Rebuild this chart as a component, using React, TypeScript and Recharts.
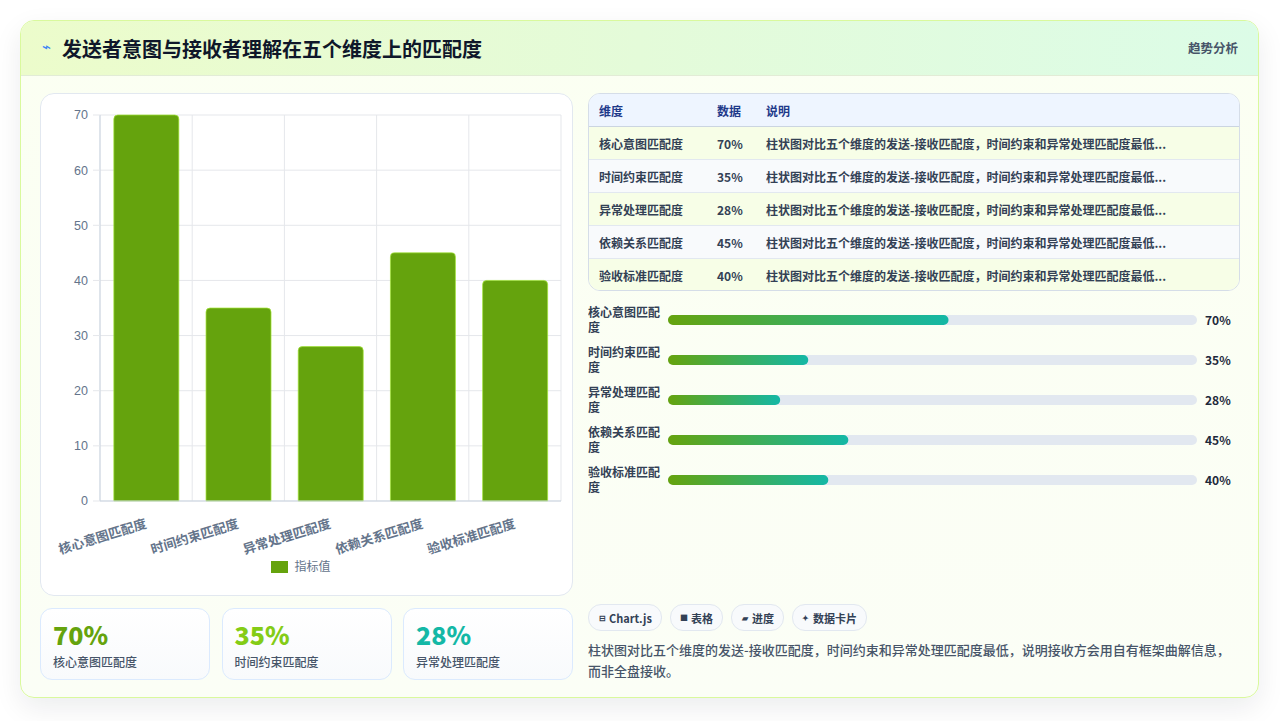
import React from 'react';
import {
  BarChart, Bar, XAxis, YAxis, CartesianGrid, Legend,
} from 'recharts';

const categories = ['核心意图匹配度', '时间约束匹配度', '异常处理匹配度', '依赖关系匹配度', '验收标准匹配度'];
const values = [70, 35, 28, 45, 40];
const yTicks = [0, 10, 20, 30, 40, 50, 60, 70];
const seriesName = '指标值';
const noteShort = '柱状图对比五个维度的发送-接收匹配度，时间约束和异常处理匹配度最低...';
const summary = '柱状图对比五个维度的发送-接收匹配度，时间约束和异常处理匹配度最低，说明接收方会用自有框架曲解信息，而非全盘接收。';
const title = '发送者意图与接收者理解在五个维度上的匹配度';
const tag = '趋势分析';
const tableHeaders = ['维度', '数据', '说明'];
const kpiColors = ['#65a30d', '#84cc16', '#14b8a6'];
const buttons = [
  { icon: '⊟', label: 'Chart.js' },
  { icon: '■', label: '表格' },
  { icon: '▰', label: '进度' },
  { icon: '✦', label: '数据卡片' },
];

const data = categories.map((c, i) => ({ name: c, value: values[i], pct: `${values[i]}%` }));

const FONT = '"Noto Sans CJK SC", "Noto Sans", sans-serif';
const AXIS_FONT = '"Liberation Sans", Arial, "Noto Sans CJK SC", sans-serif';

// page coords -> card-relative (card at 20,20 with 1px border)
const P = (x: number, y: number) => ({ position: 'absolute' as const, left: x - 21, top: y - 21 });

const XTick = (props: any) => {
  const { x, y, payload } = props;
  const ax = x - 2;
  const ay = y + 10;
  return (
    <text
      x={ax}
      y={ay}
      dy="0.85em"
      textAnchor="end"
      fill="#64748b"
      fontSize={13}
      fontWeight={600}
      fontFamily={AXIS_FONT}
      transform={`rotate(-17, ${ax}, ${ay})`}
    >
      {payload.value}
    </text>
  );
};

const LegendContent = () => (
  <div style={{ height: 40, display: 'flex', justifyContent: 'center', alignItems: 'flex-start', paddingTop: 0 }}>
    <div style={{ display: 'flex', alignItems: 'center', marginTop: 6 }}>
      <span style={{ width: 17, height: 12, background: '#65a30d', display: 'inline-block', marginRight: 6 }} />
      <span style={{ fontSize: 12, color: '#64748b', fontFamily: AXIS_FONT, lineHeight: '12px' }}>{seriesName}</span>
    </div>
  </div>
);

const ProgLabel = (props: any) => {
  const { y, payload } = props;
  const s: string = payload.value;
  const a = s.slice(0, 6);
  const b = s.slice(6);
  return (
    <text x={0} y={y} fill="#334155" fontSize={12} fontWeight={600} fontFamily={FONT}>
      <tspan x={0} dy={-3}>{a}</tspan>
      <tspan x={0} dy={15}>{b}</tspan>
    </text>
  );
};

const ProgPct = (props: any) => {
  const { y, payload } = props;
  return (
    <text x={617} y={y} dy={5} fill="#1e293b" fontSize={12} fontWeight={700} fontFamily={FONT}>
      {payload.value}
    </text>
  );
};

export default function App() {
  return (
    <div style={{ fontFamily: FONT }}>
      <style>{'body{margin:0;background:#fff;}'}</style>
      <div style={{ position: 'relative', width: 1280, height: 721, overflow: 'hidden', background: '#fff' }}>
        <div
          style={{
            position: 'absolute', left: 20, top: 20, width: 1237, height: 676,
            border: '1px solid #d9f99d', borderRadius: 14,
            background: 'linear-gradient(180deg, #fbfff2 0%, #fbfef6 100%)',
            boxShadow: '0 10px 28px rgba(15,23,42,0.08)', overflow: 'hidden',
          }}
        >
          {/* header */}
          <div
            style={{
              position: 'absolute', left: 0, top: 0, width: 1237, height: 54,
              background: 'linear-gradient(90deg, #ecfccb 0%, #e4fbd9 50%, #dcfce7 100%)',
              borderBottom: '1px solid #e2ecd6',
            }}
          >
            <span style={{ position: 'absolute', left: 21, top: 14, fontSize: 15, color: '#3b82f6', lineHeight: '22px' }}>⌁</span>
            <span style={{ position: 'absolute', left: 41, top: 14, fontSize: 20, fontWeight: 700, color: '#0f172a', lineHeight: '28px' }}>{title}</span>
            <span style={{ position: 'absolute', right: 20, top: 18, fontSize: 12.5, fontWeight: 600, color: '#475569', lineHeight: '18px' }}>{tag}</span>
          </div>

          {/* chart card */}
          <div
            style={{
              ...P(40, 93), width: 531, height: 501, background: '#fff',
              border: '1px solid #e2e8f0', borderRadius: 14,
            }}
          >
            <BarChart
              width={531}
              height={501}
              data={data}
              margin={{ top: 21, right: 11, bottom: 0, left: 0 }}
              barCategoryGap="15%"
            >
              <CartesianGrid
                stroke="#e5e7eb"
                verticalCoordinatesGenerator={({ offset }: any) =>
                  [0, 1, 2, 3, 4, 5].map((i) => offset.left + (i * offset.width) / 5)
                }
              />
              <XAxis
                dataKey="name"
                height={54}
                tickLine={false}
                tickMargin={0}
                axisLine={{ stroke: '#cbd5e1' }}
                tick={<XTick />}
                interval={0}
              />
              <YAxis
                width={59}
                domain={[0, 70]}
                ticks={yTicks}
                tickSize={7}
                tickMargin={5}
                tickLine={{ stroke: '#e5e7eb' }}
                axisLine={{ stroke: '#cbd5e1' }}
                tick={{ fill: '#64748b', fontSize: 12.5, fontFamily: AXIS_FONT }}
              />
              <Legend verticalAlign="bottom" content={<LegendContent />} />
              <Bar
                dataKey="value"
                name={seriesName}
                fill="#65a30d"
                stroke="#a3e635"
                strokeOpacity={0.7}
                strokeWidth={1}
                radius={[4, 4, 0, 0]}
                isAnimationActive={false}
              />
            </BarChart>
          </div>

          {/* KPI cards */}
          {kpiColors.map((c, i) => (
            <div
              key={i}
              style={{
                ...P(40 + i * 181.5, 608), width: 168, height: 70, boxSizing: 'content-box',
                border: '1px solid #dbeafe', borderRadius: 12,
                background: 'linear-gradient(180deg, #ffffff 0%, #f8fafc 100%)',
              }}
            >
              <div style={{ position: 'absolute', left: 12, top: 8, fontSize: 25, fontWeight: 800, color: c, lineHeight: '34px' }}>
                {data[i].pct}
              </div>
              <div style={{ position: 'absolute', left: 12, top: 44, fontSize: 12, fontWeight: 500, color: '#475569', lineHeight: '18px' }}>
                {categories[i]}
              </div>
            </div>
          ))}

          {/* table */}
          <div
            style={{
              ...P(588, 93), width: 650, height: 196, border: '1px solid #d5dde8', borderRadius: 12,
              overflow: 'hidden', background: '#fff',
            }}
          >
            <div style={{ height: 32, background: '#eef5ff', borderBottom: '1px solid #cbd5e1', display: 'flex', alignItems: 'center', fontSize: 12, fontWeight: 700, color: '#1e3a8a' }}>
              <span style={{ width: 118, paddingLeft: 10 }}>{tableHeaders[0]}</span>
              <span style={{ width: 49 }}>{tableHeaders[1]}</span>
              <span>{tableHeaders[2]}</span>
            </div>
            {data.map((d, i) => (
              <div
                key={d.name}
                style={{
                  height: 32, borderBottom: i < 4 ? '1px solid #e2e8f0' : 'none',
                  background: i % 2 === 0 ? '#f7fee7' : '#f8fafc',
                  display: 'flex', alignItems: 'center', fontSize: 12, fontWeight: 600, color: '#334155',
                }}
              >
                <span style={{ width: 118, paddingLeft: 10 }}>{d.name}</span>
                <span style={{ width: 49 }}>{d.pct}</span>
                <span>{noteShort}</span>
              </div>
            ))}
          </div>

          {/* progress */}
          <div style={{ ...P(588, 300) }}>
            <BarChart
              width={652}
              height={200}
              data={data}
              layout="vertical"
              margin={{ top: 0, right: 0, bottom: 0, left: 0 }}
              barSize={10}
            >
              <defs>
                <linearGradient id="pg" x1="0" y1="0" x2="1" y2="0">
                  <stop offset="0%" stopColor="#65a30d" />
                  <stop offset="100%" stopColor="#14b8a6" />
                </linearGradient>
              </defs>
              <XAxis type="number" domain={[0, 132]} hide />
              <YAxis type="category" dataKey="name" yAxisId="l" width={80} axisLine={false} tickLine={false} tick={<ProgLabel />} />
              <YAxis type="category" dataKey="pct" yAxisId="r" orientation="right" width={43} axisLine={false} tickLine={false} tick={<ProgPct />} />
              <Bar
                dataKey="value"
                yAxisId="l"
                fill="url(#pg)"
                radius={5}
                background={{ fill: '#e2e8f0', radius: 5 } as any}
                isAnimationActive={false}
              />
            </BarChart>
          </div>

          {/* buttons */}
          <div style={{ ...P(588, 604), display: 'flex', gap: 8 }}>
            {buttons.map((b) => (
              <div
                key={b.label}
                style={{
                  height: 25, padding: '0 9px', border: '1px solid #e2e8f0', borderRadius: 13,
                  background: '#f8fafc', display: 'flex', alignItems: 'center', fontSize: 11,
                  fontWeight: 700, color: '#334155', whiteSpace: 'nowrap',
                }}
              >
                <span style={{ fontSize: 8, width: 8, marginRight: 3, display: 'inline-block', overflow: 'hidden', textAlign: 'center' }}>{b.icon}</span>
                {b.label}
              </div>
            ))}
          </div>

          {/* summary */}
          <div style={{ ...P(588, 639), width: 645, fontSize: 13, lineHeight: '21px', fontWeight: 500, color: '#475569' }}>
            {summary}
          </div>
        </div>
      </div>
    </div>
  );
}
